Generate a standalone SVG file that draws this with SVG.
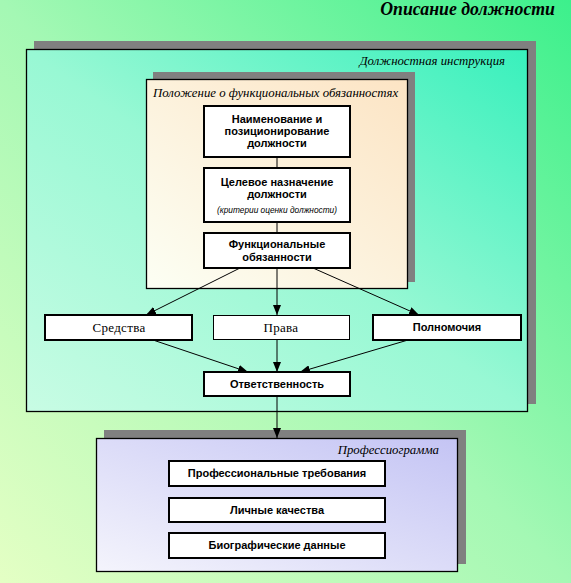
<svg xmlns="http://www.w3.org/2000/svg" width="571" height="583" viewBox="0 0 571 583">
<defs>
<linearGradient id="bg" x1="0" y1="1" x2="1" y2="0">
<stop offset="0" stop-color="#e4ffc4"/>
<stop offset="0.5" stop-color="#a4f8b4"/>
<stop offset="1" stop-color="#3cf08c"/>
</linearGradient>
<linearGradient id="outer" x1="0" y1="1" x2="1" y2="0">
<stop offset="0" stop-color="#c8fce4"/>
<stop offset="0.5" stop-color="#98f8d4"/>
<stop offset="1" stop-color="#38f0bc"/>
</linearGradient>
<linearGradient id="inner" x1="0" y1="1" x2="1" y2="0">
<stop offset="0" stop-color="#fcfff4"/>
<stop offset="1" stop-color="#fce4c4"/>
</linearGradient>
<linearGradient id="prof" x1="0" y1="1" x2="1" y2="0">
<stop offset="0" stop-color="#f4f4fc"/>
<stop offset="1" stop-color="#c4c4f4"/>
</linearGradient>
<marker id="ah" markerWidth="10" markerHeight="8" refX="10" refY="4" orient="auto" markerUnits="userSpaceOnUse">
<path d="M0,0 L10,4 L0,8 Z" fill="#000"/>
</marker>
<style>
.shadow{fill:#808080}
.frame{stroke:#000;stroke-width:1.3}
.node{fill:#fff;stroke:#000;stroke-width:2}
.thin{fill:#fff;stroke:#000;stroke-width:1}
.b{font-family:"Liberation Sans",Arial,sans-serif;font-weight:bold;font-size:11px;text-anchor:middle;fill:#000}
.s{font-family:"Liberation Serif","Times New Roman",serif;font-size:13px;text-anchor:middle;fill:#000;letter-spacing:0.3px}
.lbl{font-family:"Liberation Serif","Times New Roman",serif;font-style:italic;font-size:12.8px;fill:#000}
.c{stroke:#000;stroke-width:1;fill:none}
</style>
</defs>
<rect x="0" y="0" width="571" height="583" fill="url(#bg)"/>
<text x="555" y="15" font-family="Liberation Serif,Times New Roman,serif" font-weight="bold" font-style="italic" font-size="17.8" text-anchor="end" fill="#000">Описание должности</text>

<g id="instr">
<rect class="shadow" x="34" y="41" width="502" height="363"/>
<rect class="frame" x="26.5" y="49.5" width="501" height="362" fill="url(#outer)"/>
<text class="lbl" x="505" y="65" text-anchor="end">Должностная инструкция</text>
</g>
<g id="polozhenie">
<rect class="shadow" x="153" y="72" width="262" height="210"/>
<rect class="frame" x="146.5" y="79.5" width="261" height="209" fill="url(#inner)"/>
<text class="lbl" x="153" y="97">Положение о функциональных обязанностях</text>
</g>
<g id="professiogramma">
<rect class="shadow" x="104" y="430" width="362" height="134"/>
<rect class="frame" x="96.5" y="438.5" width="361" height="133" fill="url(#prof)"/>
<text class="lbl" x="439" y="454" text-anchor="end" font-size="12.2">Профессиограмма</text>
</g>

<g id="connectors">
<line class="c" x1="277" y1="157" x2="277" y2="168"/>
<line class="c" x1="277" y1="222" x2="277" y2="233"/>
<line class="c" x1="277" y1="268" x2="277" y2="315" marker-end="url(#ah)"/>
<line class="c" x1="240" y1="268" x2="146" y2="315" marker-end="url(#ah)"/>
<line class="c" x1="313" y1="268" x2="419" y2="315" marker-end="url(#ah)"/>
<line class="c" x1="153" y1="340" x2="248" y2="372" marker-end="url(#ah)"/>
<line class="c" x1="277" y1="340" x2="277" y2="372" marker-end="url(#ah)"/>
<line class="c" x1="408" y1="340" x2="300" y2="372" marker-end="url(#ah)"/>
<line class="c" x1="277" y1="396" x2="277" y2="438" marker-end="url(#ah)"/>
</g>

<g id="naimenovanie">
<rect class="node" x="204" y="106" width="146" height="51"/>
<text class="b" x="277" y="123">Наименование и</text>
<text class="b" x="277" y="135">позиционирование</text>
<text class="b" x="277" y="147">должности</text>
</g>
<g id="celevoe">
<rect class="node" x="204" y="168" width="146" height="54"/>
<text class="b" x="277" y="186">Целевое назначение</text>
<text class="b" x="277" y="198">должности</text>
<text x="277" y="213" font-family="Liberation Sans,Arial,sans-serif" font-style="italic" font-size="8.3" text-anchor="middle" fill="#000">(критерии оценки должности)</text>
</g>
<g id="funkcionalnye">
<rect class="node" x="204" y="233" width="146" height="35"/>
<text class="b" x="277" y="248">Функциональные</text>
<text class="b" x="277" y="261">обязанности</text>
</g>
<g id="sredstva">
<rect class="node" x="45" y="315" width="147" height="25"/>
<text class="s" x="119" y="332">Средства</text>
</g>
<g id="prava">
<rect class="thin" x="213.5" y="315.5" width="136" height="24"/>
<text class="s" x="281" y="332">Права</text>
</g>
<g id="polnomochia">
<rect class="node" x="373" y="315" width="148" height="25"/>
<text class="b" x="447" y="331">Полномочия</text>
</g>
<g id="otvetstvennost">
<rect class="node" x="204" y="372" width="146" height="24"/>
<text class="b" x="277" y="388">Ответственность</text>
</g>
<g id="trebovania">
<rect class="node" x="169" y="461" width="216" height="25"/>
<text class="b" x="277" y="477">Профессиональные требования</text>
</g>
<g id="kachestva">
<rect class="node" x="169" y="498" width="216" height="24"/>
<text class="b" x="277" y="514">Личные качества</text>
</g>
<g id="biografia">
<rect class="node" x="169" y="533" width="216" height="25"/>
<text class="b" x="277" y="549">Биографические данные</text>
</g>
</svg>
